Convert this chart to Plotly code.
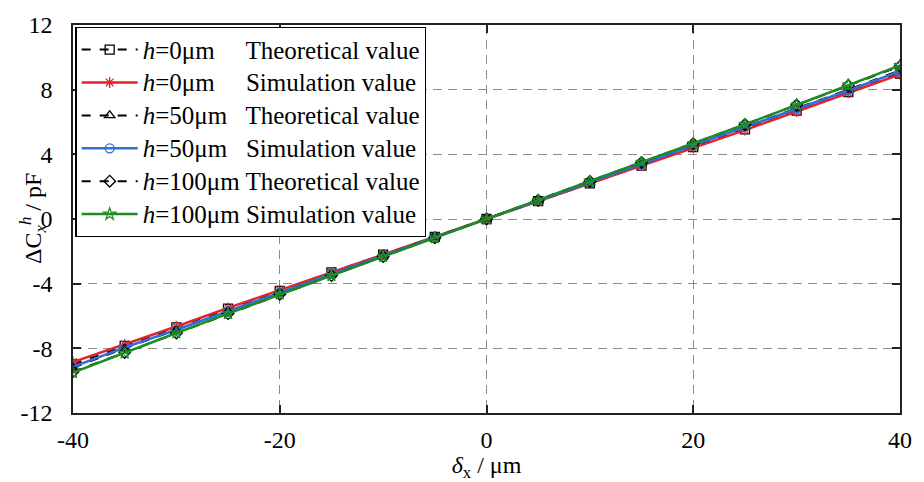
import plotly.graph_objects as go

x_um = [-40, -35, -30, -25, -20, -15, -10, -5, 0, 5, 10, 15, 20, 25, 30, 35, 40]

h0_theory = [-9.0, -7.85, -6.7, -5.55, -4.45, -3.3, -2.2, -1.1, 0, 1.1, 2.2, 3.3, 4.45, 5.55, 6.7, 7.85, 9.0]
h0_sim = [-8.85, -7.75, -6.65, -5.5, -4.4, -3.3, -2.2, -1.1, 0, 1.1, 2.2, 3.3, 4.4, 5.5, 6.65, 7.8, 8.95]
h50_theory = [-9.2, -8.0, -6.85, -5.7, -4.55, -3.4, -2.25, -1.12, 0, 1.12, 2.25, 3.4, 4.55, 5.7, 6.85, 8.0, 9.2]
h50_sim = [-9.15, -7.95, -6.85, -5.7, -4.55, -3.4, -2.25, -1.12, 0, 1.12, 2.25, 3.4, 4.55, 5.7, 6.85, 7.95, 9.15]
h100_theory = [-9.45, -8.25, -7.05, -5.85, -4.65, -3.5, -2.32, -1.16, 0, 1.16, 2.32, 3.5, 4.65, 5.85, 7.05, 8.25, 9.45]
h100_sim = [-9.5, -8.3, -7.05, -5.85, -4.65, -3.5, -2.33, -1.16, 0, 1.16, 2.33, 3.5, 4.65, 5.85, 7.05, 8.3, 9.5]

x_ticks = [-40, -20, 0, 20, 40]
y_ticks = [-12, -8, -4, 0, 4, 8, 12]

FS = "\u2007"  # figure space (digit width)
labels = [
    "<i>h</i>=0μm" + FS * 2 + " Theoretical value",
    "<i>h</i>=0μm" + FS * 2 + " Simulation value",
    "<i>h</i>=50μm" + FS + " Theoretical value",
    "<i>h</i>=50μm" + FS + " Simulation value",
    "<i>h</i>=100μm Theoretical value",
    "<i>h</i>=100μm Simulation value",
]
series = [
    (labels[0], h0_theory, "black", "dash", "square-open", 2),
    (labels[1], h0_sim, "#e3242b", "solid", "asterisk-open", 2.5),
    (labels[2], h50_theory, "black", "dash", "triangle-up-open", 2),
    (labels[3], h50_sim, "#2e6fd8", "solid", "circle-open", 2.5),
    (labels[4], h100_theory, "black", "dash", "diamond-open", 2),
    (labels[5], h100_sim, "#1e8c22", "solid", "star-open", 2.5),
]

fig = go.Figure()
for name, ys, color, dash, sym, w in series:
    fig.add_trace(go.Scatter(
        x=x_um, y=ys, name='<span style="font-size:25px">' + name + "</span>",
        mode="lines+markers",
        line=dict(color=color, dash=dash, width=w),
        marker=dict(symbol=sym, size=9, color=color, line=dict(width=1.3, color=color)),
    ))

font_family = "Liberation Serif"
fig.update_layout(
    width=924, height=482,
    margin=dict(l=73, r=17, t=18, b=69),
    paper_bgcolor="white", plot_bgcolor="white",
    font=dict(family=font_family, size=24, color="black"),
    showlegend=True,
    legend=dict(
        x=0.003, y=0.995, xanchor="left", yanchor="top",
        bgcolor="white", bordercolor="black", borderwidth=1.2,
        font=dict(family=font_family, size=23, color="black"),
        tracegroupgap=0, itemwidth=56,
    ),
    annotations=[dict(
        text="ΔC<sub><i>x</i></sub><sup><i>h</i></sup> / pF",
        xref="paper", yref="paper", x=0, y=0.5, xanchor="center", yanchor="middle",
        xshift=-40, textangle=-90, showarrow=False,
        font=dict(family=font_family, size=24, color="black"),
    )],
)
fig.update_xaxes(
    range=[-40, 40], tickvals=x_ticks, ticktext=[str(v) for v in x_ticks],
    showline=True, linecolor="#222", linewidth=1.5, mirror="ticks",
    ticks="inside", ticklen=8, tickcolor="#222", tickwidth=1.5,
    showgrid=True, gridcolor="#8c8c8c", griddash="9px,6px", gridwidth=1.3,
    zeroline=False, ticklabelstandoff=4,
    title=dict(text="<i>δ</i><sub>x</sub> / μm", font=dict(family=font_family, size=24), standoff=0),
    tickfont=dict(family=font_family, size=24),
)
fig.update_yaxes(
    range=[-12, 12], tickvals=y_ticks, ticktext=[str(v) for v in y_ticks],
    showline=True, linecolor="#222", linewidth=1.5, mirror="ticks",
    ticks="inside", ticklen=8, tickcolor="#222", tickwidth=1.5,
    showgrid=True, gridcolor="#8c8c8c", griddash="9px,6px", gridwidth=1.3,
    zeroline=False, ticklabelstandoff=14,
    tickfont=dict(family=font_family, size=24),
)

fig.write_html("out.html")
